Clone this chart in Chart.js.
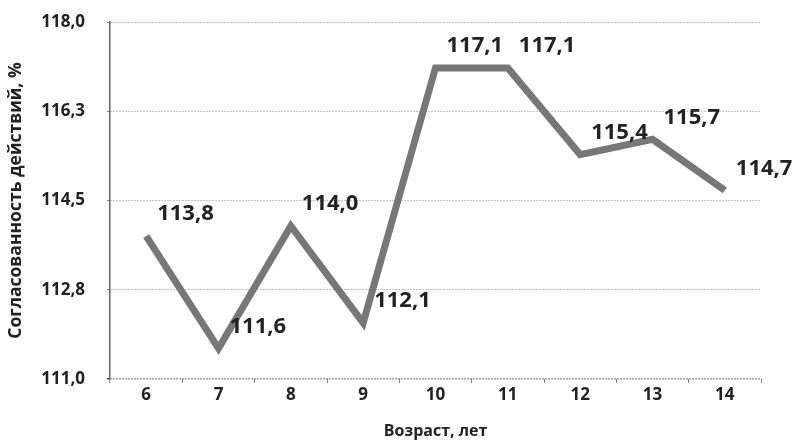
<!DOCTYPE html>
<html>
<head>
<meta charset="utf-8">
<script src="https://cdn.jsdelivr.net/npm/chart.js@4/dist/chart.umd.min.js"></script>
<style>
  html, body { margin: 0; padding: 0; background: #fff; }
  canvas { display: block; }
</style>
</head>
<body>
<canvas id="chart" width="794" height="441"></canvas>
<script>
// данные с графика
const ages = ['6', '7', '8', '9', '10', '11', '12', '13', '14'];
const values = [113.8, 111.6, 114.0, 112.1, 117.1, 117.1, 115.4, 115.7, 114.7];
const valueLabels = ['113,8', '111,6', '114,0', '112,1', '117,1', '117,1', '115,4', '115,7', '114,7'];
const yTicks = [111, 112.75, 114.5, 116.25, 118];
const yTickLabels = ['111,0', '112,8', '114,5', '116,3', '118,0'];

const FONT = "'Open Sans', sans-serif";

// подписи значений справа сверху от точек
const valueLabelPlugin = {
  id: 'valueLabels',
  afterDatasetsDraw(chart) {
    const ctx = chart.ctx;
    const meta = chart.getDatasetMeta(0);
    ctx.save();
    ctx.font = 'bold 22px ' + FONT;
    ctx.fillStyle = '#222';
    ctx.textAlign = 'left';
    ctx.textBaseline = 'middle';
    meta.data.forEach((pt, i) => {
      ctx.fillText(valueLabels[i], pt.x + 11, pt.y - 22);
    });
    ctx.restore();
  }
};

new Chart(document.getElementById('chart'), {
  type: 'line',
  data: {
    labels: ages,
    datasets: [{
      data: values,
      borderColor: '#777',
      borderWidth: 7,
      borderJoinStyle: 'miter',
      pointRadius: 0,
      tension: 0,
      fill: false
    }]
  },
  options: {
    responsive: false,
    animation: false,
    layout: { padding: { top: 22, right: 33, left: 0, bottom: 0 } },
    plugins: {
      legend: { display: false },
      tooltip: { enabled: false }
    },
    scales: {
      x: {
        offset: true,
        grid: {
          offset: true,
          drawOnChartArea: false,
          tickLength: 4,
          color: '#888'
        },
        border: { display: false },
        ticks: {
          color: '#222',
          padding: 2,
          font: { family: FONT, size: 17, weight: 'bold' }
        },
        title: {
          display: true,
          text: 'Возраст, лет',
          color: '#222',
          padding: { top: 5, bottom: 0 },
          font: { family: FONT, size: 16, weight: 'bold' }
        },
        afterFit(scale) { scale.height = 62; }
      },
      y: {
        min: 111,
        max: 118,
        afterBuildTicks(scale) {
          scale.ticks = yTicks.map(v => ({ value: v }));
        },
        grid: {
          color: (c) => (c.tick && c.tick.value === 111 ? '#444' : '#888'),
          lineWidth: (c) => (c.tick && c.tick.value === 111 ? 1.5 : 1),
          tickLength: 3
        },
        border: { color: '#666', width: 1.5, dash: [1, 2] },
        ticks: {
          color: '#222',
          padding: 22,
          font: { family: FONT, size: 17, weight: 'bold' },
          callback(value, index) { return yTickLabels[index]; }
        },
        title: {
          display: true,
          text: 'Согласованность действий, %',
          color: '#222',
          padding: { top: 6, bottom: 0 },
          font: { family: FONT, size: 17.5, weight: 'bold' }
        },
        afterFit(scale) {
          scale.width = 110;
          // без лишнего отступа сверху и снизу от подписей
          scale.paddingTop = 0;
          scale.paddingBottom = 0;
        }
      }
    }
  },
  plugins: [valueLabelPlugin]
});
</script>
</body>
</html>
